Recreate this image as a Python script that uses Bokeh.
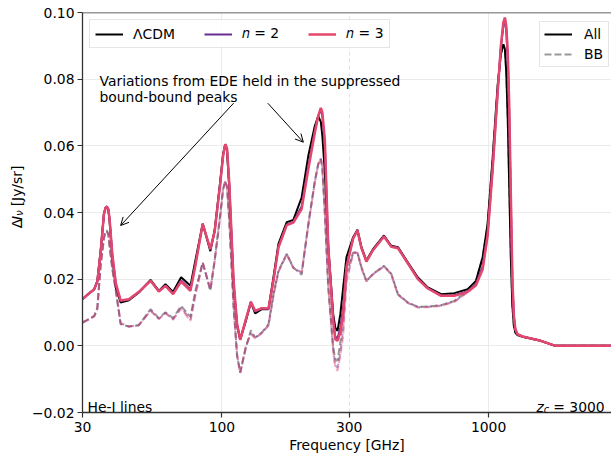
import numpy as np
from bokeh.plotting import figure
from bokeh.layouts import row
from bokeh.models import (FixedTicker, CustomJSTickFormatter, Legend, LegendItem,
                          Label, Arrow, OpenHead, Span, Grid, Range1d)
from bokeh.embed import file_html
from bokeh.resources import INLINE

# ---------------- data ----------------
freq = [30.0, 31.3, 33.2, 34.1, 35.1, 36.1, 36.6, 37.0, 37.5, 37.9, 38.8, 40.0, 41.7,
        44.8, 48.8, 54.0, 58.0, 61.4, 65.6, 70.3, 76.2, 79.5, 84.7, 90.5, 93.9, 98.6,
        101.0, 102.9, 104.5, 106.5, 110.6, 114.0, 117.1, 123.0, 128.4, 133.2, 141.1,
        149.5, 156.0, 162.9, 175.0, 185.3, 199.0, 210.8, 223.1, 229.7, 234.9, 238.0,
        243.2, 250.4, 261.4, 266.0, 271.3, 278.0, 284.9, 293.1, 310.5, 322.2, 333.6,
        348.1, 368.6, 405.2, 431.6, 457.2, 498.4, 543.1, 591.9, 663.7, 744.0, 835.0,
        896.7, 950.0, 991.6, 1035, 1081, 1112, 1136, 1151, 1165, 1180, 1195, 1212,
        1228, 1244, 1260, 1284, 1340, 1570, 1780, 3000]

all_lcdm = [0.0140, 0.0153, 0.0170, 0.0195, 0.0286, 0.0396, 0.0414, 0.0418, 0.0408, 0.0376,
            0.0266, 0.0175, 0.0130, 0.0137, 0.0160, 0.0198, 0.0165, 0.0185, 0.0162, 0.0206,
            0.0180, 0.0256, 0.0366, 0.0284, 0.0346, 0.0496, 0.0575, 0.0605, 0.0585, 0.0476,
            0.0175, 0.0060, 0.0020, 0.0075, 0.0130, 0.0097, 0.0110, 0.0110, 0.0205, 0.0306,
            0.0371, 0.0378, 0.0445, 0.0570, 0.0660, 0.0689, 0.0672, 0.0630, 0.0520, 0.0296,
            0.0095, 0.0055, 0.0045, 0.0095, 0.0175, 0.0266, 0.0326, 0.0348, 0.0296, 0.0256,
            0.0290, 0.0331, 0.0300, 0.0296, 0.0250, 0.0205, 0.0175, 0.0155, 0.0158, 0.0170,
            0.0195, 0.0266, 0.0366, 0.0560, 0.0780, 0.0875, 0.0905, 0.0890, 0.0820, 0.0680,
            0.0480, 0.0260, 0.0120, 0.0060, 0.0040, 0.0032, 0.0027, 0.0015, 0.0000, 0.0000]

bb_lcdm = [0.0070, 0.0078, 0.0090, 0.0115, 0.0246, 0.0325, 0.0343, 0.0346, 0.0335, 0.0300,
           0.0230, 0.0165, 0.0065, 0.0058, 0.0062, 0.0110, 0.0083, 0.0101, 0.0083, 0.0120,
           0.0087, 0.0165, 0.0250, 0.0165, 0.0256, 0.0396, 0.0470, 0.0494, 0.0475, 0.0376,
           0.0115, -0.0030, -0.0080, -0.0005, 0.0047, 0.0025, 0.0040, 0.0065, 0.0155, 0.0225,
           0.0276, 0.0235, 0.0213, 0.0366, 0.0496, 0.0545, 0.0561, 0.0530, 0.0396, 0.0175,
           -0.0005, -0.0040, -0.0045, 0.0010, 0.0095, 0.0220, 0.0280, 0.0280, 0.0236, 0.0195,
           0.0216, 0.0240, 0.0216, 0.0155, 0.0130, 0.0117, 0.0118, 0.0122, 0.0135, 0.0165,
           0.0195, 0.0266, 0.0366, 0.0560, 0.0780, 0.0875, 0.0905, 0.0890, 0.0820, 0.0680,
           0.0480, 0.0260, 0.0120, 0.0060, 0.0040, 0.0032, 0.0027, 0.0015, 0.0000, 0.0000]

all_n2 = [0.0140, 0.0153, 0.0170, 0.0193, 0.0284, 0.0395, 0.0414, 0.0418, 0.0409, 0.0379,
          0.0273, 0.0185, 0.0135, 0.0139, 0.0161, 0.0196, 0.0164, 0.0181, 0.0157, 0.0196,
          0.0169, 0.0244, 0.0366, 0.0289, 0.0344, 0.0490, 0.0571, 0.0605, 0.0590, 0.0487,
          0.0190, 0.0064, 0.0018, 0.0079, 0.0132, 0.0103, 0.0112, 0.0111, 0.0197, 0.0298,
          0.0364, 0.0372, 0.0418, 0.0540, 0.0645, 0.0690, 0.0708, 0.0690, 0.0600, 0.0300,
          0.0080, 0.0028, 0.0022, 0.0055, 0.0115, 0.0240, 0.0323, 0.0346, 0.0294, 0.0254,
          0.0288, 0.0329, 0.0298, 0.0294, 0.0248, 0.0201, 0.0173, 0.0151, 0.0152, 0.0164,
          0.0185, 0.0238, 0.0338, 0.0534, 0.0763, 0.0895, 0.0960, 0.0975, 0.0945, 0.0860,
          0.0690, 0.0420, 0.0185, 0.0085, 0.0048, 0.0034, 0.0028, 0.0015, 0.0000, 0.0000]

bb_n2 = [0.0070, 0.0077, 0.0089, 0.0111, 0.0242, 0.0323, 0.0341, 0.0344, 0.0335, 0.0301,
         0.0233, 0.0168, 0.0067, 0.0058, 0.0062, 0.0106, 0.0081, 0.0099, 0.0080, 0.0115,
         0.0079, 0.0155, 0.0250, 0.0168, 0.0255, 0.0392, 0.0469, 0.0494, 0.0478, 0.0382,
         0.0121, -0.0029, -0.0081, -0.0002, 0.0039, 0.0023, 0.0039, 0.0062, 0.0152, 0.0223,
         0.0275, 0.0234, 0.0219, 0.0362, 0.0492, 0.0545, 0.0562, 0.0537, 0.0399, 0.0182,
         -0.0012, -0.0058, -0.0066, -0.0020, 0.0050, 0.0200, 0.0279, 0.0279, 0.0234, 0.0194,
         0.0215, 0.0239, 0.0215, 0.0154, 0.0129, 0.0116, 0.0117, 0.0121, 0.0133, 0.0162,
         0.0185, 0.0238, 0.0338, 0.0534, 0.0763, 0.0895, 0.0960, 0.0975, 0.0945, 0.0860,
         0.0690, 0.0420, 0.0185, 0.0085, 0.0048, 0.0034, 0.0028, 0.0015, 0.0000, 0.0000]

all_n3 = [0.0140, 0.0153, 0.0170, 0.0192, 0.0283, 0.0395, 0.0414, 0.0418, 0.0410, 0.0380,
          0.0275, 0.0188, 0.0136, 0.0140, 0.0162, 0.0195, 0.0163, 0.0180, 0.0155, 0.0193,
          0.0165, 0.0240, 0.0366, 0.0290, 0.0343, 0.0488, 0.0570, 0.0605, 0.0592, 0.0490,
          0.0195, 0.0065, 0.0018, 0.0080, 0.0132, 0.0105, 0.0113, 0.0112, 0.0195, 0.0295,
          0.0362, 0.0370, 0.0410, 0.0530, 0.0640, 0.0690, 0.0714, 0.0700, 0.0617, 0.0300,
          0.0075, 0.0020, 0.0015, 0.0040, 0.0095, 0.0235, 0.0322, 0.0346, 0.0293, 0.0253,
          0.0287, 0.0328, 0.0297, 0.0293, 0.0247, 0.0200, 0.0172, 0.0150, 0.0150, 0.0162,
          0.0182, 0.0230, 0.0330, 0.0526, 0.0757, 0.0900, 0.0970, 0.0985, 0.0960, 0.0880,
          0.0720, 0.0450, 0.0200, 0.0090, 0.0050, 0.0035, 0.0028, 0.0015, 0.0000, 0.0000]

bb_n3 = [0.0070, 0.0077, 0.0088, 0.0110, 0.0240, 0.0322, 0.0340, 0.0343, 0.0335, 0.0302,
         0.0235, 0.0170, 0.0068, 0.0058, 0.0062, 0.0105, 0.0080, 0.0098, 0.0078, 0.0112,
         0.0075, 0.0150, 0.0250, 0.0170, 0.0255, 0.0390, 0.0468, 0.0494, 0.0480, 0.0385,
         0.0125, -0.0028, -0.0082, 0.0000, 0.0035, 0.0022, 0.0038, 0.0060, 0.0150, 0.0222,
         0.0274, 0.0233, 0.0222, 0.0360, 0.0490, 0.0545, 0.0562, 0.0540, 0.0400, 0.0185,
         -0.0015, -0.0065, -0.0075, -0.0030, 0.0030, 0.0190, 0.0278, 0.0279, 0.0233, 0.0193,
         0.0214, 0.0238, 0.0214, 0.0153, 0.0128, 0.0115, 0.0116, 0.0120, 0.0132, 0.0160,
         0.0182, 0.0230, 0.0330, 0.0526, 0.0757, 0.0900, 0.0970, 0.0985, 0.0960, 0.0880,
         0.0720, 0.0450, 0.0200, 0.0090, 0.0050, 0.0035, 0.0028, 0.0015, 0.0000, 0.0000]

x_ticks = [30, 100, 300, 1000]
y_ticks = [-0.02, 0.0, 0.02, 0.04, 0.06, 0.08, 0.10]

# ---------------- styling constants ----------------
FONT = "DejaVu Sans"
FS = "13.9px"
FS_SUB = "9.7px"
C_N2 = "#6a2c91"
C_N3 = "#e3476d"
DASH = "7 3"

PAGE_W, PAGE_H = 611, 457
SIDE_W = 28                             # narrow panel holding the y-axis title
X_START, X_END = 30, 2890
Y_START, Y_END = -0.02, 0.10
FRAME_H = 400
FRAME_TOP = 12
PX_Y = (Y_END - Y_START) / FRAME_H


def y_at(py):
    """page-pixel row -> data y (annotation placement only)"""
    return Y_END - (py - FRAME_TOP) * PX_Y


p = figure(width=PAGE_W - SIDE_W, height=PAGE_H, x_axis_type="log",
           x_range=Range1d(X_START, X_END), y_range=Range1d(Y_START, Y_END),
           output_backend="svg", toolbar_location=None, title=None,
           min_border_left=80 - SIDE_W, min_border_right=0, min_border_top=FRAME_TOP,
           min_border_bottom=PAGE_H - FRAME_TOP - FRAME_H)
p.outline_line_color = None
p.background_fill_color = "white"
p.border_fill_color = "white"

# grids
p.xgrid.ticker = FixedTicker(ticks=[100, 1000])
p.xgrid.grid_line_color = "#ebebeb"
p.ygrid.ticker = FixedTicker(ticks=y_ticks)
p.ygrid.grid_line_color = "#ebebeb"
p.add_layout(Grid(dimension=0, ticker=FixedTicker(ticks=[300]), grid_line_color="#e2e2e2",
                  grid_line_dash="4 3"))

# curves
r_lcdm = p.line(freq, all_lcdm, line_color="black", line_width=2)
r_lcdm_bb = p.line(freq, bb_lcdm, line_color="black", line_alpha=0.4, line_width=2,
                   line_dash=DASH)
r_n2 = p.line(freq, all_n2, line_color=C_N2, line_width=2)
r_n2_bb = p.line(freq, bb_n2, line_color=C_N2, line_alpha=0.45, line_width=2, line_dash=DASH)
r_n3 = p.line(freq, all_n3, line_color=C_N3, line_width=2.5)
r_n3_bb = p.line(freq, bb_n3, line_color=C_N3, line_alpha=0.45, line_width=2, line_dash=DASH)

# axes
AX_COL = "#333333"
for ax in (p.xaxis, p.yaxis):
    ax.axis_line_color = AX_COL
    ax.axis_line_width = 1.3
    ax.major_tick_line_color = AX_COL
    ax.major_tick_line_width = 1.2
    ax.major_tick_in = 0
    ax.major_tick_out = 5
    ax.minor_tick_line_color = None
    ax.major_label_text_font = FONT
    ax.major_label_text_font_size = FS
    ax.major_label_text_color = "black"

p.xaxis.ticker = FixedTicker(ticks=x_ticks, minor_ticks=[])
p.xaxis.formatter = CustomJSTickFormatter(code="return Math.round(tick).toString();")
p.xaxis.major_label_standoff = 4
p.xaxis.axis_label = "Frequency [GHz]"
p.xaxis.axis_label_text_font = FONT
p.xaxis.axis_label_text_font_size = FS
p.xaxis.axis_label_text_font_style = "normal"
p.xaxis.axis_label_text_color = "black"
p.xaxis.axis_label_standoff = 2

p.yaxis.ticker = FixedTicker(ticks=y_ticks, minor_ticks=[])
p.yaxis.formatter = CustomJSTickFormatter(
    code="return tick.toFixed(2).replace('-', '\\u2212');")
p.yaxis.major_label_standoff = 3

# top spine
p.add_layout(Span(location=Y_END, dimension="width", line_color=AX_COL, line_width=1.3))


def lab(fig, text, x, y, x_off=0, size=FS, style="normal", angle=0.0):
    fig.add_layout(Label(x=x, y=y, x_offset=x_off, text=text, text_font=FONT,
                         text_font_size=size, text_font_style=style, text_color="black",
                         text_baseline="alphabetic", text_align="left", angle=angle))


# corner texts
lab(p, "He-I lines", X_START, y_at(406), 5)
lab(p, "z", X_END, y_at(406), -75, style="italic")
lab(p, "c", X_END, y_at(409), -67.7, size=FS_SUB, style="italic")
lab(p, "= 3000", X_END, y_at(406), -58.2)

# annotation
lab(p, "Variations from EDE held in the suppressed", X_START, y_at(80), 17)
lab(p, "bound-bound peaks", X_START, y_at(96.5), 17)
ann_start = [(110.6, y_at(102.7)), (148.6, y_at(102.7))]
ann_end = [(41.7, y_at(225)), (202.0, y_at(141.7))]
for (xs, ys), (xe, ye) in zip(ann_start, ann_end):
    p.add_layout(Arrow(end=OpenHead(size=8, line_width=1, line_color="black"),
                       x_start=xs, y_start=ys, x_end=xe, y_end=ye,
                       line_color="black", line_width=1))

# legends
leg_common = dict(label_text_font=FONT, label_text_font_size=FS, label_text_color="black",
                  border_line_color="#cccccc", border_line_width=1,
                  background_fill_color="white", background_fill_alpha=0.85,
                  glyph_width=28, label_standoff=10)
leg1 = Legend(items=[LegendItem(label="\u039bCDM", renderers=[r_lcdm]),
                     LegendItem(label="\U0001D45B = 2", renderers=[r_n2]),
                     LegendItem(label="\U0001D45B = 3", renderers=[r_n3])],
              location="top_left", orientation="horizontal", margin=7, padding=5,
              spacing=29, label_height=14, glyph_height=14, **leg_common)
leg2 = Legend(items=[LegendItem(label="All", renderers=[r_lcdm]),
                     LegendItem(label="BB", renderers=[r_lcdm_bb])],
              location=(457, 345), orientation="vertical", padding=4, spacing=4,
              label_height=16, glyph_height=16, **leg_common)
leg2.label_standoff = 12
p.add_layout(leg1)
p.add_layout(leg2)

# side panel carrying the rotated y-axis title  ΔI_ν [Jy/sr]
side = figure(width=SIDE_W, height=PAGE_H, x_range=Range1d(0, SIDE_W),
              y_range=Range1d(PAGE_H, 0), output_backend="svg", toolbar_location=None,
              title=None, x_axis_location=None, y_axis_location=None,
              min_border=0)
side.outline_line_color = None
side.grid.visible = False
side.background_fill_color = "white"
side.border_fill_color = "white"
ROT = np.pi / 2
BASE_X = 16
py0 = 246.5
lab(side, "\u0394", BASE_X, py0, angle=ROT)
lab(side, "I", BASE_X, py0 - 9.5, style="italic", angle=ROT)
lab(side, "\u03bd", BASE_X + 3, py0 - 14.3, size=FS_SUB, style="italic", angle=ROT)
lab(side, "[Jy/sr]", BASE_X, py0 - 25.0, angle=ROT)

layout = row(side, p)
open("out.html", "w").write(file_html(layout, INLINE))
